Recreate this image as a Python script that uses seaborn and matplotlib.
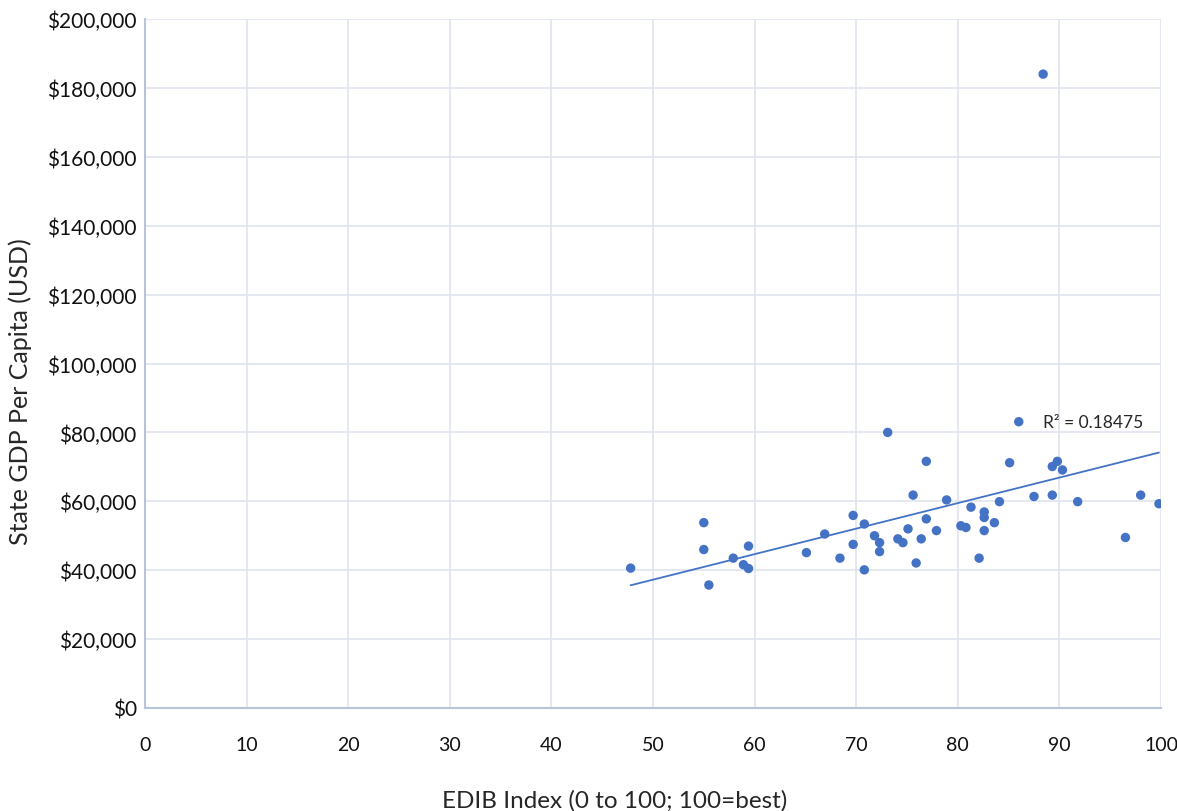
import numpy as np
import pandas as pd
import matplotlib.pyplot as plt
import matplotlib.ticker as mticker
import seaborn as sns

# EDIB index score and GDP per capita (USD) by state
edib = [47.8, 55.0, 55.0, 55.5, 57.9, 58.9, 59.4, 59.4, 65.1, 66.9,
        68.4, 69.7, 69.7, 70.8, 70.8, 71.8, 72.3, 72.3, 74.1, 73.1,
        86.0, 76.9, 75.6, 78.9, 74.6, 75.1, 76.4, 76.9, 75.9, 77.9,
        80.3, 80.8, 81.3, 82.1, 82.6, 82.6, 82.6, 83.6, 84.1, 85.1,
        87.5, 89.3, 89.3, 89.8, 90.3, 91.8, 96.5, 98.0, 99.8, 88.4]
gdp = [40600, 53800, 46000, 35700, 43500, 41600, 40500, 47000, 45100, 50500,
       43500, 55900, 47500, 53400, 40100, 50000, 48000, 45400, 49100, 80000,
       83100, 71600, 61800, 60400, 48000, 52000, 49100, 54900, 42100, 51500,
       52900, 52400, 58300, 43500, 56900, 55300, 51500, 53800, 59900, 71200,
       61400, 61800, 70100, 71600, 69100, 59900, 49500, 61800, 59300, 184000]
r2_label = "R² = 0.18475"

df = pd.DataFrame({"edib": edib, "gdp": gdp})

sns.set_style("white")
plt.rcParams["font.family"] = ["Lato", "DejaVu Sans"]

blue = "#4472C4"
fig = plt.figure(figsize=(11.77, 8.12), dpi=100)
ax = fig.add_axes([145 / 1177, 1 - 709 / 812, (1161 - 145) / 1177, (709 - 20) / 812])

sns.regplot(data=df, x="edib", y="gdp", ax=ax, ci=None,
            scatter_kws=dict(s=46, color=blue, edgecolor="none", alpha=1, zorder=3),
            line_kws=dict(color=blue, lw=1.3, zorder=2))

ax.set_xlim(0, 100)
ax.set_ylim(0, 200000)
ax.set_xticks(range(0, 101, 10))
ax.set_yticks(range(0, 200001, 20000))
ax.yaxis.set_major_formatter(mticker.StrMethodFormatter("${x:,.0f}"))
ax.grid(True, color="#dfe4ee", lw=1.2)
ax.set_axisbelow(True)
for side in ["top", "right"]:
    ax.spines[side].set_visible(False)
for side in ["left", "bottom"]:
    ax.spines[side].set_color("#b8c4d8")
    ax.spines[side].set_linewidth(1.5)
ax.tick_params(axis="both", length=0, colors="#111111")
ax.tick_params(axis="x", pad=20, labelsize=14)
ax.tick_params(axis="y", pad=6, labelsize=15)

ax.set_xlabel("EDIB Index (0 to 100; 100=best)", fontsize=17.5)
ax.set_ylabel("State GDP Per Capita (USD)", fontsize=18)
ax.xaxis.set_label_coords(0.462, -0.117)
ax.yaxis.set_label_coords(-0.111, 0.46)

ax.text(88.4, 83100, r2_label, fontsize=12.5, va="center", ha="left")

fig.savefig("out.png", dpi=100)
